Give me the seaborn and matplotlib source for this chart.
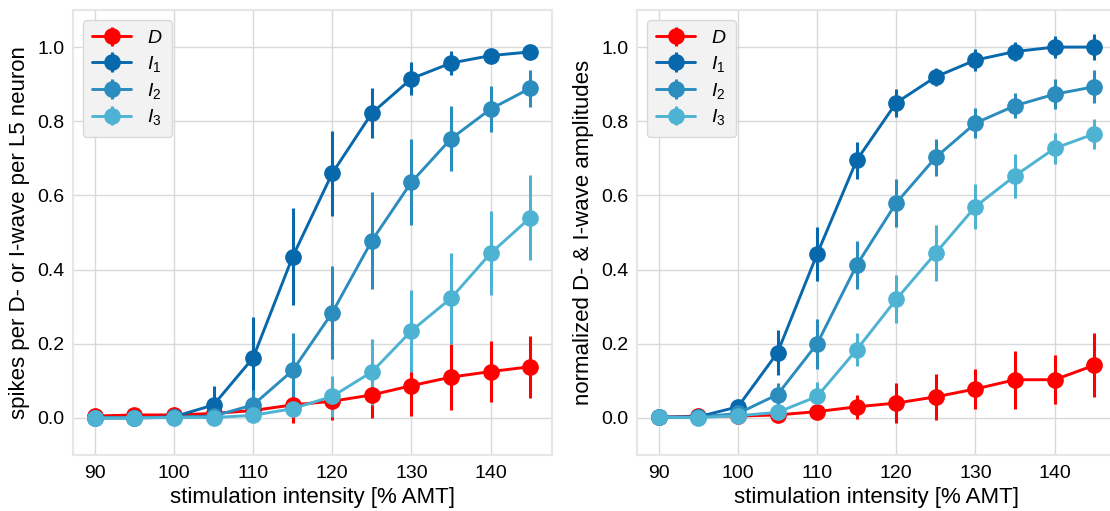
import numpy as np
import matplotlib
matplotlib.use("Agg")
import matplotlib.pyplot as plt
import seaborn as sns

intensity = [90, 95, 100, 105, 110, 115, 120, 125, 130, 135, 140, 145]
wave_labels = ["$D$", "$I_1$", "$I_2$", "$I_3$"]

# left panel: spikes per D- or I-wave per L5 neuron
spk_D = [0.005, 0.008, 0.008, 0.012, 0.020, 0.035, 0.045, 0.062, 0.087, 0.110, 0.125, 0.138]
spk_D_err = [0.003, 0.004, 0.004, 0.010, 0.030, 0.050, 0.050, 0.062, 0.082, 0.090, 0.083, 0.083]
spk_I1 = [0.000, 0.000, 0.003, 0.035, 0.162, 0.435, 0.660, 0.822, 0.915, 0.957, 0.977, 0.987]
spk_I1_err = [0.002, 0.002, 0.005, 0.050, 0.110, 0.130, 0.115, 0.067, 0.045, 0.032, 0.010, 0.010]
spk_I2 = [0.000, 0.000, 0.002, 0.005, 0.035, 0.128, 0.284, 0.478, 0.636, 0.753, 0.833, 0.889]
spk_I2_err = [0.001, 0.001, 0.003, 0.010, 0.040, 0.100, 0.125, 0.130, 0.115, 0.088, 0.063, 0.050]
spk_I3 = [0.000, 0.000, 0.001, 0.001, 0.007, 0.025, 0.058, 0.124, 0.235, 0.323, 0.444, 0.540]
spk_I3_err = [0.001, 0.001, 0.001, 0.003, 0.010, 0.020, 0.055, 0.090, 0.110, 0.123, 0.113, 0.115]

# right panel: normalized D- & I-wave amplitudes
amp_D = [0.002, 0.005, 0.005, 0.008, 0.017, 0.030, 0.040, 0.057, 0.078, 0.103, 0.103, 0.142]
amp_D_err = [0.002, 0.003, 0.003, 0.008, 0.015, 0.033, 0.055, 0.062, 0.054, 0.078, 0.066, 0.086]
amp_I1 = [0.002, 0.003, 0.030, 0.176, 0.442, 0.695, 0.850, 0.920, 0.965, 0.988, 1.000, 1.000]
amp_I1_err = [0.002, 0.003, 0.010, 0.060, 0.073, 0.050, 0.038, 0.024, 0.030, 0.025, 0.030, 0.035]
amp_I2 = [0.002, 0.002, 0.012, 0.063, 0.200, 0.412, 0.580, 0.703, 0.795, 0.842, 0.873, 0.893]
amp_I2_err = [0.002, 0.002, 0.006, 0.030, 0.067, 0.065, 0.065, 0.050, 0.040, 0.034, 0.040, 0.045]
amp_I3 = [0.002, 0.001, 0.006, 0.015, 0.058, 0.184, 0.320, 0.445, 0.570, 0.653, 0.727, 0.766]
amp_I3_err = [0.002, 0.001, 0.004, 0.010, 0.040, 0.044, 0.065, 0.075, 0.060, 0.060, 0.041, 0.040]

colors = ["#ff0000", "#0868ac", "#2b8cbe", "#4eb3d3"]

sns.set_theme(style="whitegrid")
plt.rcParams["font.family"] = ["Liberation Sans", "DejaVu Sans"]
plt.rcParams["mathtext.fontset"] = "custom"
plt.rcParams["mathtext.it"] = "Liberation Sans:italic"
plt.rcParams["mathtext.rm"] = "Liberation Sans"
plt.rcParams["text.color"] = "black"
plt.rcParams["axes.labelcolor"] = "black"
plt.rcParams["xtick.color"] = "black"
plt.rcParams["ytick.color"] = "black"

fig = plt.figure(figsize=(11.10, 5.11), dpi=100)
ax1 = fig.add_axes([73 / 1110, 56 / 511, 479 / 1110, 445 / 511])
ax2 = fig.add_axes([637 / 1110, 56 / 511, 479 / 1110, 445 / 511])

panels = [
    (ax1, [spk_D, spk_I1, spk_I2, spk_I3], [spk_D_err, spk_I1_err, spk_I2_err, spk_I3_err],
     "spikes per D- or I-wave per L5 neuron"),
    (ax2, [amp_D, amp_I1, amp_I2, amp_I3], [amp_D_err, amp_I1_err, amp_I2_err, amp_I3_err],
     "normalized D- & I-wave amplitudes"),
]

for ax, series, errs, ylabel in panels:
    for vals, err, col, lab in zip(series, errs, colors, wave_labels):
        ax.errorbar(intensity, vals, yerr=err, color=col, label=lab,
                    marker="o", markersize=11, linewidth=2.1, elinewidth=2.2,
                    capsize=0)
    ax.set_ylim(-0.1, 1.1)
    ax.set_xticks([90, 100, 110, 120, 130, 140])
    ax.set_yticks([0.0, 0.2, 0.4, 0.6, 0.8, 1.0])
    ax.tick_params(axis="both", labelsize=14, length=0)
    ax.tick_params(axis="y", pad=6)
    ax.tick_params(axis="x", pad=7)
    ax.set_xlabel("stimulation intensity [% AMT]", fontsize=16, labelpad=4)
    ax.set_ylabel(ylabel, fontsize=16, labelpad=5)
    ax.grid(True, color="#d9d9d9", linewidth=1.0)
    for sp in ax.spines.values():
        sp.set_color("#e6e6e6")
        sp.set_linewidth(1.5)
    leg = ax.legend(loc="upper left", fontsize=14, frameon=True, fancybox=True,
                    handlelength=2.0, handletextpad=0.8, borderpad=0.5,
                    labelspacing=0.35)
    leg.get_frame().set_facecolor("#f2f2f2")
    leg.get_frame().set_edgecolor("#d9d9d9")
    leg.get_frame().set_alpha(1.0)

fig.savefig("out.png", dpi=100)
